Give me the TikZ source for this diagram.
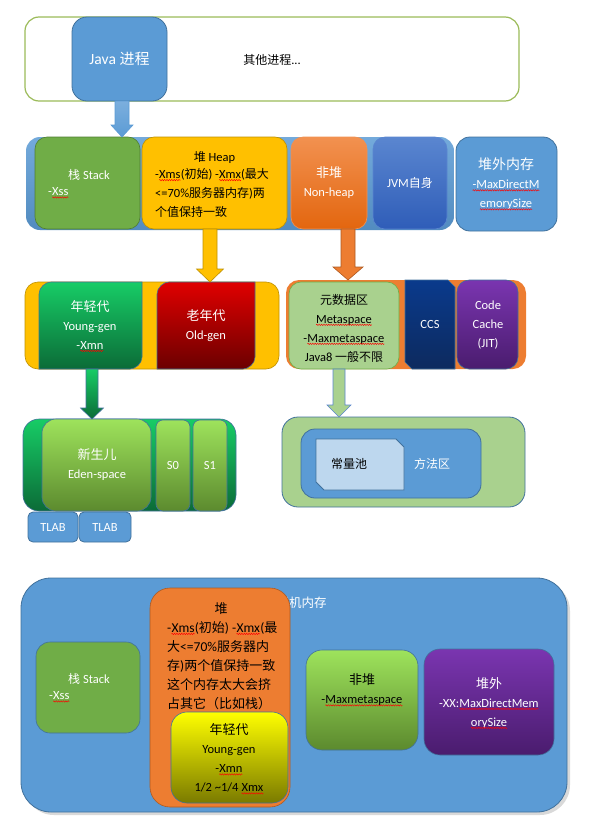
\documentclass[tikz,border=0pt]{standalone}
\usepackage{fontspec}
\setmainfont{Carlito}[Scale=1.04]
\newfontfamily\latf{Carlito}[Scale=1.04]
\newfontfamily\cjkf{Noto Sans CJK SC}
\usetikzlibrary{calc,shadows,decorations.pathmorphing}

% automatic switch between the Latin and the CJK font
\XeTeXinterchartokenstate=1
\chardef\cjkcls=77
\newcount\cjkcode
\cjkcode="3000
\loop
  \XeTeXcharclass\cjkcode=\cjkcls
  \ifnum\cjkcode<"9FFF \advance\cjkcode by 1 \repeat
\cjkcode="FF00
\loop
  \XeTeXcharclass\cjkcode=\cjkcls
  \ifnum\cjkcode<"FFEF \advance\cjkcode by 1 \repeat
\XeTeXinterchartoks 0 \cjkcls = {\cjkf}
\XeTeXinterchartoks 4095 \cjkcls = {\cjkf}
\XeTeXinterchartoks \cjkcls 0 = {\latf}
\XeTeXinterchartoks \cjkcls 4095 = {\latf}

\definecolor{accblue}{HTML}{5B9BD5}
\definecolor{edgeblue}{HTML}{41719C}
\definecolor{accgreen}{HTML}{70AD47}
\definecolor{edgegreen}{HTML}{507E32}
\definecolor{gold}{HTML}{FFC000}
\definecolor{edgegold}{HTML}{BF9000}
\definecolor{accorange}{HTML}{ED7D31}
\definecolor{edgeorange}{HTML}{AE5A21}
\definecolor{lightgreen}{HTML}{A9D18E}
\definecolor{paleblue}{HTML}{BDD7EE}
\definecolor{framegreen}{HTML}{9BBB59}
\definecolor{spellred}{HTML}{FF0000}
\definecolor{emeraldtop}{HTML}{17CC66}
\definecolor{emeraldbot}{HTML}{0B6B37}
\definecolor{redtop}{HTML}{E00000}
\definecolor{redbot}{HTML}{6B0000}
\definecolor{limetop}{HTML}{9EE35C}
\definecolor{limebot}{HTML}{5C8A2E}
\definecolor{purptop}{HTML}{7A35B0}
\definecolor{purpbot}{HTML}{4A1C6E}
\definecolor{navytop}{HTML}{0A3A8C}
\definecolor{navybot}{HTML}{0D2A5E}
\definecolor{jvmtop}{HTML}{5A86D0}
\definecolor{jvmbot}{HTML}{2F5DB8}
\definecolor{orgtop}{HTML}{F29150}
\definecolor{orgbot}{HTML}{E3660F}
\definecolor{yeltop}{HTML}{FFFF00}
\definecolor{yelbot}{HTML}{7A7A00}

% wavy red spelling mark under a word
\newcommand\sq[1]{\tikz[baseline=(sqw.base)]{\node[inner sep=0pt,outer sep=0pt] (sqw) {#1};
  \draw[spellred, line width=0.45pt, decorate, decoration={zigzag, amplitude=0.7pt, segment length=2.4pt}]
    ([yshift=-1.8pt]sqw.base west) -- ([yshift=-1.8pt]sqw.base east);}}

% block arrow: style, tail, tip, shaft half width, head half width, head length
\newcommand\blockarrow[6]{\path[#1] let \p1=(#2), \p2=(#3) in
  (\x1-#4pt,\y1) -- (\x1+#4pt,\y1) -- (\x1+#4pt,\y2+#6pt) -- (\x1+#5pt,\y2+#6pt)
  -- (\x1,\y2) -- (\x1-#5pt,\y2+#6pt) -- (\x1-#4pt,\y2+#6pt) -- cycle;}

% rectangle with rounded top-left and bottom-right corners
\newcommand\diagrect[5]{\path[#1] (#2,#5) -- (#2,#3+12) .. controls (#2,#3+5.4) and (#2+6.6,#3) .. (#2+12,#3)
  -- (#4,#3) -- (#4,#5-12) .. controls (#4,#5-5.4) and (#4-6.6,#5) .. (#4-12,#5) -- cycle;}

% rectangle with cut top-right and bottom-left corners: style, x1, y1, x2, y2, cut
\newcommand\sniprect[6]{\path[#1] (#2,#3) -- (#4-#6,#3) -- (#4,#3+#6) -- (#4,#5) -- (#2+#6,#5) -- (#2,#5-#6) -- cycle;}

\begin{document}
\begin{tikzpicture}[x=1pt,y=-1pt,
  lbl/.style={inner sep=0pt, font=\fontsize{12}{19}\selectfont, align=center},
  area/.style={anchor=north west, inner sep=0pt, outer sep=0pt},
  bluebox/.style={area, fill=accblue, draw=edgeblue, line width=0.8pt},
  arrowline/.style={line width=0.6pt, line join=miter}]
\useasboundingbox (0,0) rectangle (589,825);

% ---------- processes ----------
\node[area, draw=framegreen, line width=1.2pt, fill=white, rounded corners=14pt,
      minimum width=494pt, minimum height=84pt] (procs) at (25,17) {};
\node[bluebox, rounded corners=15pt, minimum width=95pt, minimum height=84pt] (javaproc) at (72,17) {};
\node[lbl, text=white, font=\fontsize{15}{19}\selectfont] (javatxt) at (javaproc.center) {Java 进程};
\node[lbl] (otherproc) at (272,60) {其他进程...};

% ---------- JVM memory regions ----------
\node[area, top color=accblue!85!white, bottom color=accblue!90!black, rounded corners=14pt,
      minimum width=428pt, minimum height=93pt] (heaprow) at (26,137) {};
\node[area, fill=accgreen, draw=edgegreen, line width=0.6pt, rounded corners=12pt,
      minimum width=105pt, minimum height=92pt] (stack) at (35,137) {};
\node[lbl, text=white] (stacktitle) at (89,175) {栈 Stack};
\node[lbl, text=white, anchor=west] (stackopt) at (48,193) {-\sq{Xss}};

\node[area, fill=gold, draw=edgegold, line width=0.6pt, rounded corners=12pt,
      minimum width=145pt, minimum height=92pt] (heap) at (142,137) {};
\node[lbl] (heaptitle) at (214.5,157) {堆 Heap};
\node[lbl, align=left, anchor=north west] (heapopts) at (155,168)
  {-\sq{Xms}(初始) -\sq{Xmx}(最大\\<=70\%服务器内存)两\\个值保持一致};

\node[area, top color=orgtop, bottom color=orgbot, draw=orgtop, line width=0.6pt, rounded corners=12pt,
      minimum width=76pt, minimum height=92pt] (nonheap) at (291,137) {};
\node[lbl, text=white] (nonheaptxt) at (329,183) {{\fontsize{13}{19}\selectfont 非堆}\\Non-heap};

\node[area, top color=jvmtop, bottom color=jvmbot, draw=jvmtop, line width=0.6pt, rounded corners=12pt,
      minimum width=74pt, minimum height=92pt] (jvmself) at (373,137) {};
\node[lbl, text=white] (jvmtxt) at (jvmself.center) {JVM自身};

\node[bluebox, rounded corners=14pt, minimum width=101pt, minimum height=94pt] (offheap) at (456,137) {};
\node[lbl, text=white] (offheaptxt) at (506,184) {{\fontsize{14}{19}\selectfont 堆外内存}\\\sq{-MaxDirectM}\\\sq{emorySize}};

% ---------- heap generations ----------
\node[area, fill=gold, draw=edgegold, line width=0.6pt, rounded corners=13pt,
      minimum width=254pt, minimum height=87pt] (gens) at (25,282) {};
\node[area, minimum width=103pt, minimum height=87pt] (young) at (39,282) {};
\diagrect{top color=emeraldtop, bottom color=emeraldbot, draw=edgeblue, line width=0.6pt}{39}{282}{142}{369}
\node[lbl, text=white] (youngtxt) at (90,326) {{\fontsize{13}{19}\selectfont 年轻代}\\Young-gen\\-\sq{Xmn}};
\node[area, minimum width=98pt, minimum height=87pt] (old) at (157,282) {};
\diagrect{top color=redtop, bottom color=redbot, draw=edgeblue, line width=0.6pt}{157}{282}{255}{369}
\node[lbl, text=white] (oldtxt) at (206,326) {{\fontsize{13}{19}\selectfont 老年代}\\Old-gen};

% ---------- non-heap parts ----------
\node[area, fill=accorange, rounded corners=13pt,
      minimum width=240pt, minimum height=89pt] (metarow) at (286,280) {};
\node[area, fill=lightgreen, draw=accgreen, line width=0.6pt, rounded corners=12pt,
      minimum width=110pt, minimum height=87pt] (metaspace) at (289,282) {};
\node[lbl] (metatxt) at (344,328) {元数据区\\\sq{Metaspace}\\-\sq{Maxmetaspace}\\Java8 一般不限};
\node[area, minimum width=50pt, minimum height=89pt] (ccs) at (405,280) {};
\sniprect{top color=navytop, bottom color=navybot, draw=edgeblue, line width=0.6pt}{405}{280}{455}{369}{7}
\node[lbl, text=white] (ccstxt) at (ccs.center) {CCS};
\node[area, top color=purptop, bottom color=purpbot, draw=edgeblue, line width=0.6pt, rounded corners=12pt,
      minimum width=61pt, minimum height=89pt] (codecache) at (457,280) {};
\node[lbl, text=white] (codetxt) at (488,325) {Code\\Cache\\(JIT)};

% ---------- young generation detail ----------
\node[area, top color=emeraldtop, bottom color=emeraldbot, draw=edgeblue, line width=0.6pt, rounded corners=16pt,
      minimum width=213pt, minimum height=92pt] (younggen) at (23,419) {};
\node[area, top color=limetop, bottom color=limebot, draw=edgeblue, line width=0.6pt, rounded corners=14pt,
      minimum width=109pt, minimum height=92pt] (eden) at (42,419) {};
\node[lbl, text=white] (edentxt) at (97,465) {{\fontsize{13}{19}\selectfont 新生儿}\\Eden-space};
\node[area, top color=limetop, bottom color=limebot, draw=edgeblue, line width=0.6pt, rounded corners=7pt,
      minimum width=34pt, minimum height=91pt] (szero) at (156,420) {};
\node[lbl, text=white] (szerotxt) at (szero.center) {S0};
\node[area, top color=limetop, bottom color=limebot, draw=edgeblue, line width=0.6pt, rounded corners=7pt,
      minimum width=34pt, minimum height=91pt] (sone) at (193,420) {};
\node[lbl, text=white] (sonetxt) at (sone.center) {S1};
\node[bluebox, rounded corners=5pt, minimum width=50pt, minimum height=30pt] (tlabone) at (28,512) {};
\node[lbl, text=white] (tlabonetxt) at (tlabone.center) {TLAB};
\node[bluebox, rounded corners=5pt, minimum width=52pt, minimum height=30pt] (tlabtwo) at (79,512) {};
\node[lbl, text=white] (tlabtwotxt) at (tlabtwo.center) {TLAB};

% ---------- method area ----------
\node[area, fill=lightgreen, draw=edgeblue, line width=0.8pt, rounded corners=16pt,
      minimum width=243pt, minimum height=90pt] (methodouter) at (282,417) {};
\node[bluebox, rounded corners=14pt, minimum width=180pt, minimum height=69pt] (methodarea) at (301,429) {};
\node[area, minimum width=88pt, minimum height=51pt] (constpool) at (316,439) {};
\sniprect{fill=paleblue, draw=edgeblue, line width=0.8pt}{316}{439}{404}{490}{8}
\node[lbl] (constpooltxt) at (349,464) {常量池};
\node[lbl, text=white] (methodtxt) at (432,464) {方法区};

% ---------- arrows ----------
\coordinate (aonet) at ([xshift=2.5pt]javaproc.south);
\blockarrow{top color=accblue!80!white, bottom color=accblue, draw=accblue, arrowline}{aonet}{aonet |- heaprow.north}{7}{11}{12}
\coordinate (atwot) at ([xshift=-4.5pt]heap.south);
\blockarrow{fill=gold, draw=edgegold, arrowline}{atwot}{atwot |- gens.north}{7}{13.5}{13}
\coordinate (athreet) at ([xshift=19pt]nonheap.south);
\blockarrow{fill=accorange, draw=edgeorange, arrowline}{athreet}{athreet |- metarow.north}{7}{15}{13}
\coordinate (afourt) at ([xshift=1.5pt]young.south);
\blockarrow{top color=emeraldtop, bottom color=emeraldbot, draw=edgeblue, arrowline}{afourt}{afourt |- younggen.north}{6}{11.5}{11}
\coordinate (afivet) at ([xshift=-5pt]metaspace.south);
\blockarrow{fill=lightgreen, draw=jvmtop, arrowline}{afivet}{afivet |- methodouter.north}{6}{12}{12}

% ---------- virtual machine memory overview ----------
\node[bluebox, rounded corners=30pt, minimum width=546pt, minimum height=234pt,
      drop shadow={shadow xshift=3pt, shadow yshift=-3pt, opacity=0.3}] (vmmem) at (21,578) {};
\node[lbl, text=white, anchor=west, font=\fontsize{12.5}{19}\selectfont] (vmmemtxt) at (264,603) {虚拟机内存};
\node[area, fill=accgreen, draw=edgeblue, line width=0.6pt, rounded corners=14pt,
      minimum width=104pt, minimum height=91pt] (stacktwo) at (36,642) {};
\node[lbl, text=white] (stacktwotitle) at (89,679) {栈 Stack};
\node[lbl, text=white, anchor=west] (stacktwoopt) at (49,697) {-\sq{Xss}};
\node[area, fill=accorange, draw=edgeorange, line width=0.6pt, rounded corners=20pt,
      minimum width=140pt, minimum height=219pt] (heaptwo) at (150,588) {};
\node[lbl, font=\fontsize{13}{19}\selectfont] (heaptwotitle) at (221,609) {堆};
\node[lbl, align=left, anchor=north west, font=\fontsize{13}{19}\selectfont] (heaptwobody) at (167,621)
  {-\sq{Xms}(初始) -\sq{Xmx}(最\\大<=70\%服务器内\\存)两个值保持一致\\这个内存太大会挤\\占其它（比如栈）};
\node[area, top color=yeltop, bottom color=yelbot, draw=edgeblue, line width=0.6pt, rounded corners=16pt,
      minimum width=117pt, minimum height=91pt] (youngthree) at (171,712) {};
\node[lbl] (youngthreetxt) at (229,759) {{\fontsize{13}{19}\selectfont 年轻代}\\Young-gen\\-\sq{Xmn}\\1/2 \textasciitilde1/4 \sq{Xmx}};
\node[area, top color=limetop, bottom color=limebot, draw=edgeblue, line width=0.6pt, rounded corners=16pt,
      minimum width=112pt, minimum height=100pt] (nonheaptwo) at (306,650) {};
\node[lbl] (nonheaptwotxt) at (362,690) {{\fontsize{13}{19}\selectfont 非堆}\\-\sq{Maxmetaspace}};
\node[area, top color=purptop, bottom color=purpbot, draw=edgeblue, line width=0.6pt, rounded corners=16pt,
      minimum width=130pt, minimum height=106pt] (offheaptwo) at (424,649) {};
\node[lbl, text=white] (offheaptwotxt) at (489,703) {{\fontsize{13}{19}\selectfont 堆外}\\-XX:\sq{MaxDirectMem}\\\sq{orySize}};
\end{tikzpicture}
\end{document}
